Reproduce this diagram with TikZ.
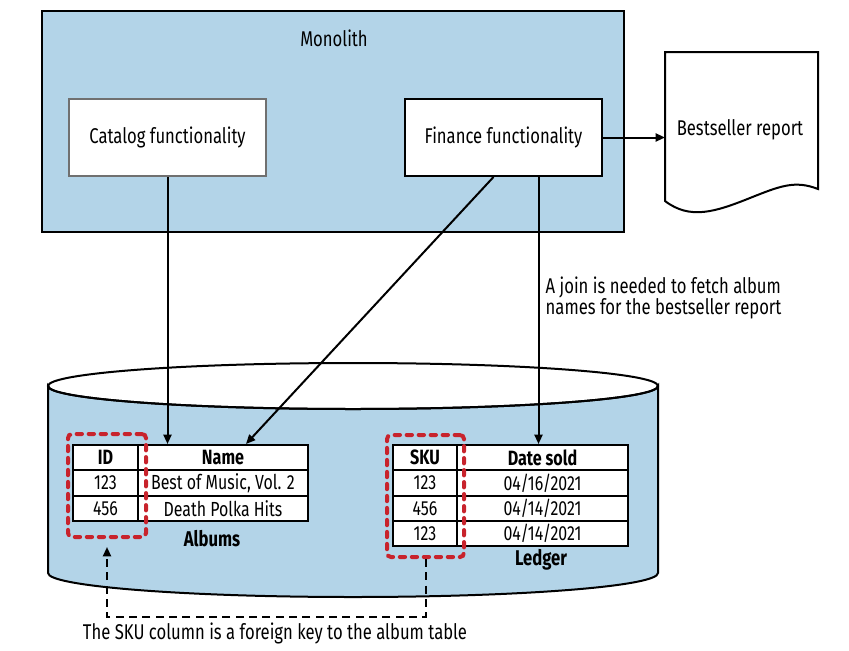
\documentclass[tikz,border=0pt]{standalone}
\usepackage{fontspec}
\setmainfont[FakeStretch=0.78]{Fira Sans}
\usetikzlibrary{arrows.meta}
\definecolor{mono}{HTML}{B3D4E8}
\definecolor{redk}{HTML}{C8232C}
\definecolor{greyb}{HTML}{707070}
\tikzset{
  box/.style={draw, line width=1.5pt, fill=white, minimum width=147.75pt, minimum height=57.75pt, anchor=north west, font=\fontsize{16}{17.5}\selectfont},
  cell/.style={draw, line width=1.5pt, fill=white, minimum height=19pt, anchor=north west, inner sep=0pt, font=\fontsize{15.3}{17}\selectfont},
  hcell/.style={cell, font=\fontsize{15.5}{17}\selectfont\bfseries},
  redbox/.style={draw=redk, line width=3pt, line cap=round, dash pattern=on 4pt off 5pt, rounded corners=3pt, anchor=north west, inner sep=0pt},
  arr/.style={line width=1.5pt, -{Triangle[length=7pt,width=6pt]}},
  txt/.style={font=\fontsize{16}{15}\selectfont},
}
\begin{document}
\begin{tikzpicture}[x=0.75pt,y=-0.75pt]
\useasboundingbox (0,0) rectangle (849,650);
% monolith
\draw[line width=1.5pt, fill=mono] (42,11) rectangle (624,232);
\node[txt] (mono) at (334,38) {Monolith};
\node[box, draw=greyb] (cat) at (68,98) {Catalog functionality};
\node[box] (fin) at (404,98) {Finance functionality};
% report
\draw[line width=1.5pt, fill=white] (665,52) -- (818,52) -- (818,189)
  .. controls (795,180) and (780,186) .. (750,198)
  .. controls (715,212) and (690,220) .. (665,201) -- cycle;
\node[txt, inner sep=0pt, minimum width=114.75pt, minimum height=60pt, anchor=north west] (rep) at (665,100) {};
\node[txt] (reptxt) at (740,130) {Bestseller report};
% cylinder
\draw[line width=1.5pt, fill=mono] (48,386) -- (48,573) arc(180:0:305 and 24) -- (658,386) arc(0:180:305 and 23) -- cycle;
\draw[line width=1.5pt] (353,386) ellipse (305 and 23);
% albums table
\node[hcell, minimum width=48.75pt] (aid) at (72,444) {ID};
\node[hcell, minimum width=127.5pt] (aname) at (137,444) {Name};
\node[cell, minimum width=48.75pt] (a1) at (72,469.3) {123};
\node[cell, minimum width=127.5pt] (a1n) at (137,469.3) {Best of Music, Vol. 2};
\node[cell, minimum width=48.75pt] (a2) at (72,494.6) {456};
\node[cell, minimum width=127.5pt] (a2n) at (137,494.6) {Death Polka Hits};
\node[txt, font=\fontsize{16}{17}\selectfont\bfseries] (albums) at (212,539) {Albums};
% ledger table
\node[hcell, minimum width=48pt] (lsku) at (392,444) {SKU};
\node[hcell, minimum width=128.25pt] (ldate) at (456,444) {Date sold};
\node[cell, minimum width=48pt] (l1) at (392,469.3) {123};
\node[cell, minimum width=128.25pt] (l1d) at (456,469.3) {04/16/2021};
\node[cell, minimum width=48pt] (l2) at (392,494.6) {456};
\node[cell, minimum width=128.25pt] (l2d) at (456,494.6) {04/14/2021};
\node[cell, minimum width=48pt] (l3) at (392,519.9) {123};
\node[cell, minimum width=128.25pt] (l3d) at (456,519.9) {04/14/2021};
\node[txt, font=\fontsize{16}{17}\selectfont\bfseries] (ledger) at (541,560) {Ledger};
% red dashed boxes
\node[redbox, minimum width=58.5pt, minimum height=77.25pt] (ared) at (66,432) {};
\node[redbox, minimum width=57.75pt, minimum height=91.5pt] (lred) at (385,433) {};
% arrows
\draw[arr] (cat.south) -- (cat.south |- aname.north);
\draw[arr] ([xshift=-7.5pt]fin.south) -- ([xshift=17.25pt]aname.north);
\draw[arr] ([xshift=26.25pt]fin.south) -- ([xshift=26.25pt]fin.south |- ldate.north);
\draw[arr] (fin.east) -- (fin.east -| rep.west);
\node[txt, anchor=west, align=left] (join) at (541,298) {A join is needed to fetch album\\names for the bestseller report};
% foreign key
\draw[line width=1.5pt, dash pattern=on 6pt off 4pt, -{Triangle[length=7pt,width=6pt]}]
  (lred.south) -- ++(0,58) -| ([yshift=-6pt]ared.south);
\node[txt] (fk) at (275,633) {The SKU column is a foreign key to the album table};
\end{tikzpicture}
\end{document}
